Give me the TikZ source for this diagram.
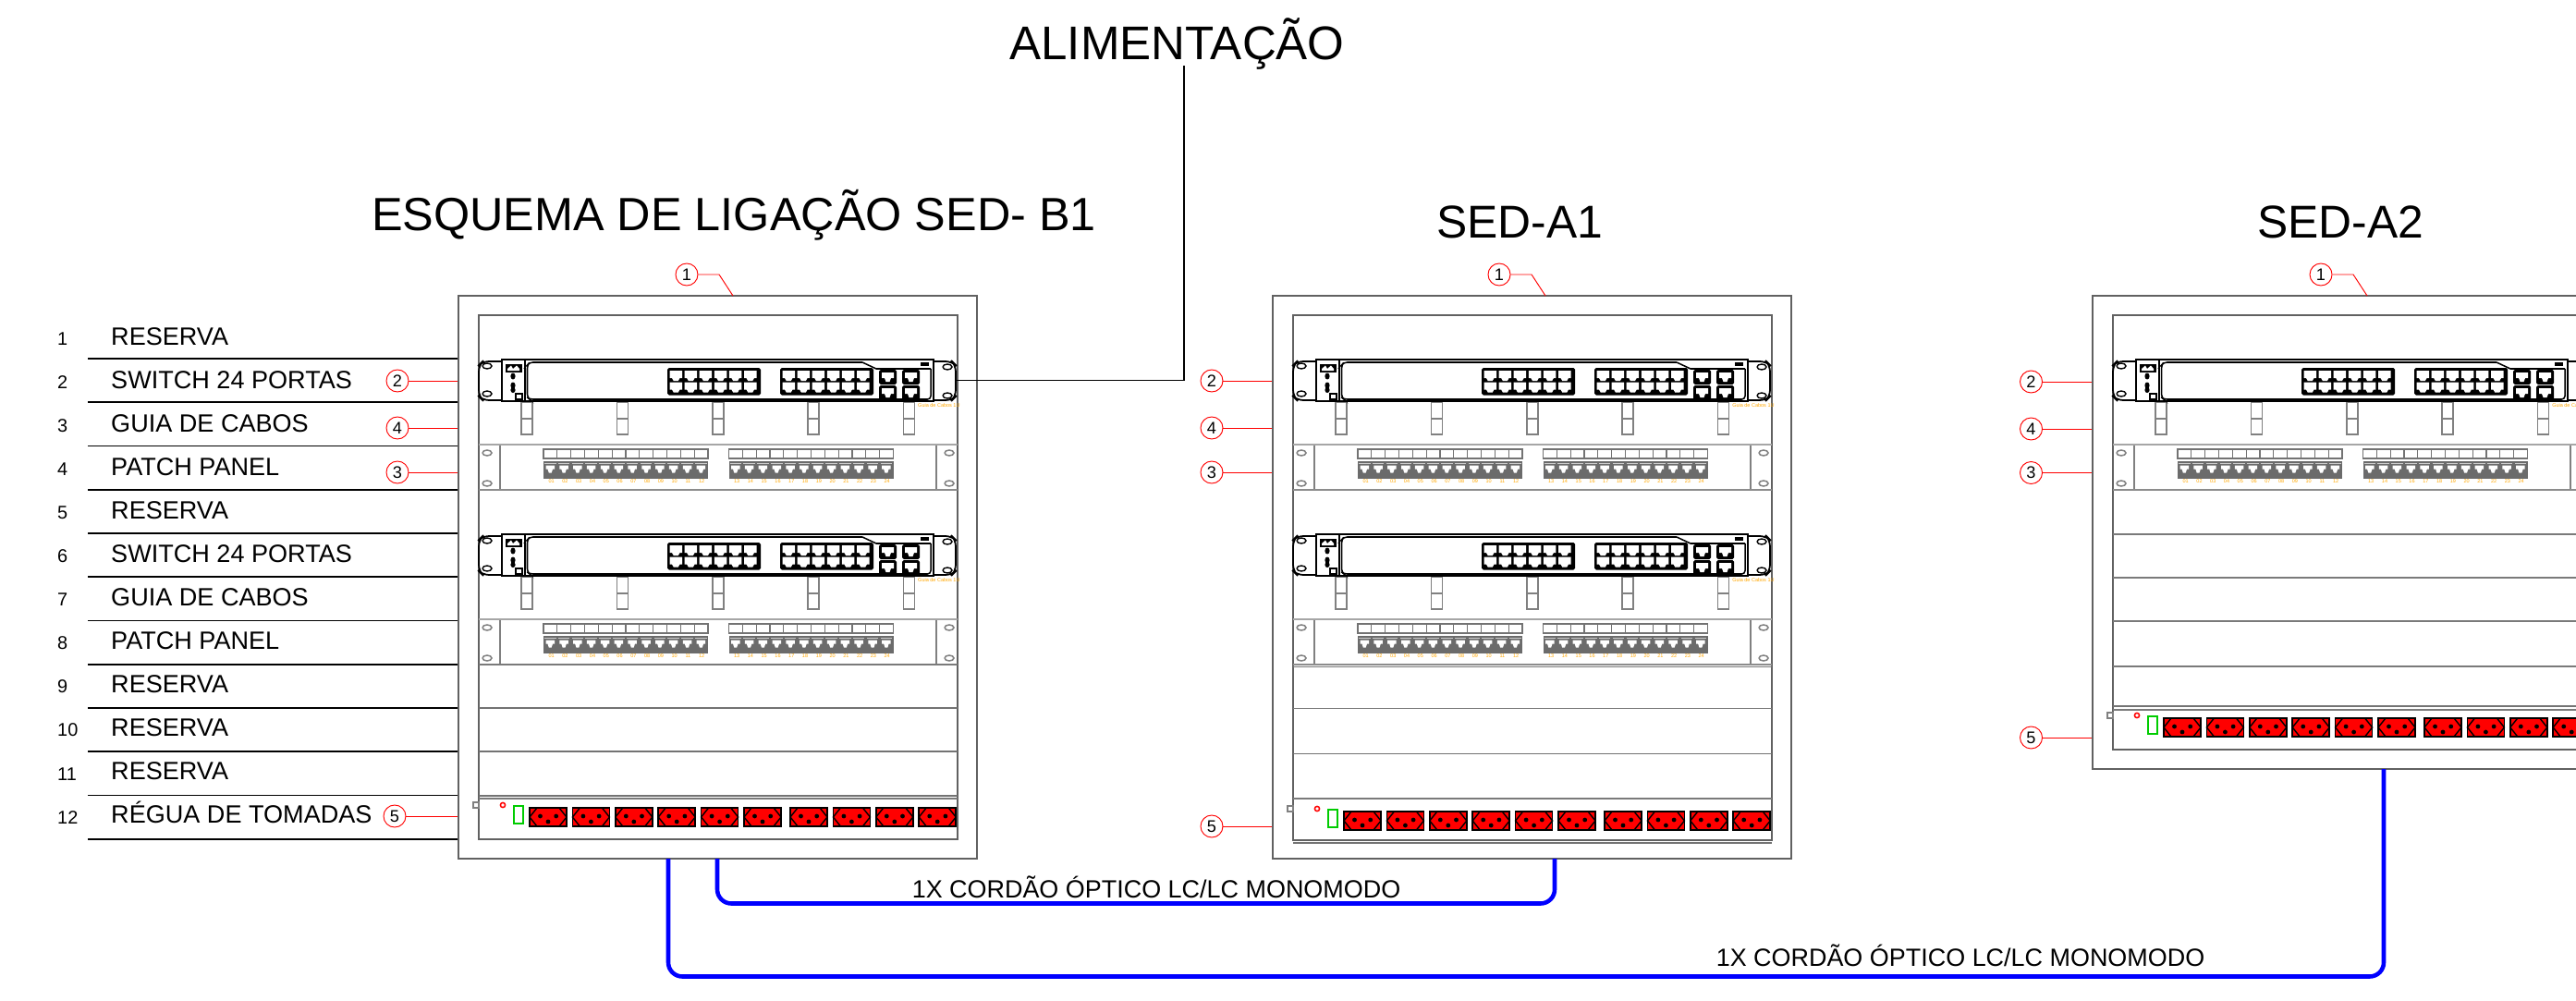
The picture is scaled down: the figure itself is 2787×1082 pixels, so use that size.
\documentclass[tikz,border=0pt]{standalone}
\usepackage{fontspec}
\setmainfont{Liberation Sans}
\begin{document}
\begin{tikzpicture}[x=0.3mm,y=-0.3mm,
  frameline/.style={draw=black!62,line width=1.7pt},
  rowline/.style={draw=black!52,line width=1.5pt},
  thinrow/.style={draw=black!55,line width=1.4pt},
  blk/.style={draw=black,line width=1.5pt},
  lightline/.style={draw=black!50,line width=1.2pt},
  bubble/.style={circle,draw=red,line width=0.8pt,minimum size=20.5pt,inner sep=0pt,fill=white,font=\fontsize{15.5}{16}\selectfont},
  leader/.style={draw=red,line width=0.8pt},
  rowtext/.style={anchor=base west,inner sep=0pt,font=\fontsize{23.1}{24}\selectfont},
  numtext/.style={anchor=base west,inner sep=0pt,font=\fontsize{17}{18}\selectfont},
  title/.style={inner sep=0pt,anchor=base,font=\fontsize{42.5}{44}\selectfont},
  gold/.style={inner sep=0pt,text=orange!70!yellow,font=\fontsize{4.7}{5}\selectfont},
  fiber/.style={draw=blue,line width=3.9pt,rounded corners=13pt},
  swport/.pic={\fill[white] (0,0)--(13.5,0)--(13.5,8)--(11,8)--(9.3,11)--(4.2,11)--(2.5,8)--(0,8)--cycle;},
  pport/.pic={\fill[black!20] (1,1.6) rectangle (13.5,3);
    \fill[white] (2.5,4.5)--(12,4.5)--(12,8.5)--(10,8.5)--(8.7,12.5)--(5.8,12.5)--(4.5,8.5)--(2.5,8.5)--cycle;},
  swblock/.pic={\fill[black,rounded corners=1.5pt] (0,0) rectangle (101,29.5);
    \foreach \k in {0,...,5}{
      \pic at ({2.5+16.1*\k},3) {swport};
      \pic at ({2.5+16.1*\k},15.5) {swport};}},
  uplink/.pic={\fill[black,rounded corners=1.5pt] (0,0) rectangle (19,16);
    \fill[white] (3,3)--(16,3)--(16,9)--(13,9)--(11.5,13)--(7.5,13)--(6,9)--(3,9)--cycle;},
  socket/.pic={\fill[red] (0,0) rectangle (40,20);
    \draw[black,line width=1.3pt] (0,0) rectangle (40,20);
    \draw[black,line width=1.2pt] (8,0)--(0,10)--(8,20) (32,0)--(40,10)--(32,20);
    \fill[black] (11.5,9) circle (2.4) (28.7,9) circle (2.4) (20,15) circle (2.4);},
]
\useasboundingbox (0,0) rectangle (2787,1082);
\clip (0,0) rectangle (2787,1082);

% ---------- repeating equipment ----------
\def\switchunit#1{%
 \begin{scope}[shift={(0,#1)}]
  % cable guide
  \foreach \fx in {46,149.5,253,356,459.5}{
    \draw[lightline] ({518+\fx},435) rectangle ({530+\fx},470);
    \draw[lightline] ({518+\fx},453)--({530+\fx},453);}
  \draw[rowline,draw=black!35] (518,481)--(1036,481);
  \node[gold,anchor=west] at (993,439) {Guia de Cabos 1U};
  % patch panel
  \draw[lightline] (541,482)--(541,529) (1013,482)--(1013,529);
  \foreach \px/\py in {522/490,522/523,1022/490,1022/523}{
    \draw[lightline,line width=1.3pt] (\px,\py) arc[start angle=180,end angle=540,x radius=5,y radius=3];}
  \foreach \gx/\ng in {588/0,788.5/12}{
   \foreach \k in {0,...,11}{
    \draw[black!55,line width=1pt] ({\gx+14.83*\k},486) rectangle ({\gx+14.83*(\k+1)},496);}
   \fill[black!58] (\gx,499) rectangle ({\gx+178},517.5);
   \foreach \k in {0,...,11}{\pic at ({\gx+14.83*\k},499) {pport};}
   \foreach \k [evaluate=\k as \lab using int(\k+\ng+1)] in {0,...,11}{
    \node[gold] at ({\gx+8.7+14.77*\k},520.5) {\ifnum\lab<10 0\fi\lab};}
  }
  \draw[draw=black!45,line width=2.2pt] (518,530)--(1036,530);
  % switch
  \draw[blk,rounded corners=6pt,fill=white] (545,391)--(522,391)--(518,395)--(518,429)--(522,433)--(545,433);
  \draw[blk,rounded corners=6pt,fill=white] (1008,391)--(1030,391)--(1034,395)--(1034,429)--(1030,433)--(1008,433);
  \foreach \px/\py in {522/396,522/426,1020/397,1020/428}{
    \draw[blk,line width=1.2pt] (\px,\py) arc[start angle=180,end angle=540,x radius=5,y radius=3];}
  \draw[draw=black,line width=1.9pt,fill=white] (543,389) rectangle (1010,434);
  \draw[draw=black,line width=1.6pt] (568,389)--(568,434);
  \draw[draw=black,line width=1.3pt,rounded corners=3pt] (933,392)--(573,392)--(570.5,395)--(570.5,430)--(573,432)--(1007,432)--(1007,399);
  \draw[draw=black,line width=1.3pt] (933,392)--(948,399)--(1007,399);
  \fill[black] (996,391.5) rectangle (1005,395.5);
  \fill[black] (547,394) rectangle (565,403);
  \fill[white] (549,399)--(553,395.5)--(555,399)--(559,395.5)--(562,399)--(562,401)--(549,401)--cycle;
  \fill[black] (555,407) ellipse (2.6 and 3.5) (555,417) ellipse (2.6 and 3.5) (555,422) ellipse (2.6 and 3);
  \draw[draw=black,line width=1.4pt,fill=white] (558,426) rectangle (565,432);
  \pic at (722,398) {swblock};
  \pic at (844,398) {swblock};
  \pic at (951,400) {uplink};
  \pic at (951,417) {uplink};
  \pic at (976,400) {uplink};
  \pic at (976,417) {uplink};
 \end{scope}}

\def\strip#1{%
  \draw[lightline] (512,{#1-6}) rectangle (518,{#1});
  \draw[red,line width=1.3pt] (544,{#1-3}) circle (2.6);
  \draw[green!80!black,line width=1.2pt] (556,{#1-2}) rectangle (566,{#1+17});
  \foreach \sx in {573,619.4,665.8,712.2,758.6,805,855,901.4,947.8}{\pic at (\sx,#1) {socket};}
  \begin{scope}\clip (990,{#1-3}) rectangle (1035,{#1+23});\pic at (994.2,#1) {socket};\end{scope}}

% ---------- rack 1 ----------
\node[frameline,minimum width=479.4pt,minimum height=519pt,inner sep=0pt] (rack1) at (776.5,624.5) {};
\draw[frameline] (518,341) rectangle (1036,908);
\switchunit{0}
\switchunit{189}
\draw[rowline] (518,719)--(1036,719);
\draw[thinrow] (518,766)--(1036,766);
\draw[thinrow] (518,813)--(1036,813);
\draw[thinrow] (518,861)--(1036,861);
\draw[rowline] (518,864)--(1036,864);
\strip{874}

% ---------- rack 2 ----------
\node[frameline,minimum width=479.4pt,minimum height=519pt,inner sep=0pt] (rack2) at (1657.5,624.5) {};
\begin{scope}[shift={(881,0)}]
\draw[frameline] (518,341) rectangle (1036,908.5);
\switchunit{0}
\switchunit{189}
\draw[rowline] (518,721.5)--(1036,721.5);
\draw[rowline] (518,766.5)--(1036,766.5);
\draw[thinrow] (518,815.5)--(1036,815.5);
\draw[rowline] (518,864)--(1036,864);
\draw[thinrow] (518,912)--(1036,912);
\strip{878}
\end{scope}

% ---------- rack 3 ----------
\node[frameline,minimum width=479.4pt,minimum height=437pt,inner sep=0pt] (rack3) at (2544.5,576) {};
\begin{scope}[shift={(1768,0)}]
\draw[frameline] (518,341) rectangle (1036,811);
\switchunit{0}
\draw[rowline] (518,578)--(1036,578);
\draw[rowline] (518,625)--(1036,625);
\draw[rowline] (518,672)--(1036,672);
\draw[rowline] (518,721)--(1036,721);
\draw[thinrow] (518,764)--(1036,764);
\draw[rowline] (518,768)--(1036,768);
\strip{777}
\end{scope}

% ---------- row table ----------
\foreach \i [evaluate=\i as \ly using {388+47.25*\i}] in {0,...,11}{
  \coordinate (rl\i) at (95,\ly);
  \draw[black,line width=1.3pt] (rl\i)--(rl\i -| rack1.west);}
\foreach \i/\lab [evaluate=\i as \ly using {373.5+47.0*(\i-1)}] in {1/RESERVA,2/SWITCH 24 PORTAS,3/GUIA DE CABOS,4/PATCH PANEL,5/RESERVA,6/SWITCH 24 PORTAS,7/GUIA DE CABOS,8/PATCH PANEL,9/RESERVA,10/RESERVA,11/RESERVA,12/RÉGUA DE TOMADAS}{
  \node[rowtext] (lab\i) at (120,\ly) {\lab};}
\foreach \i [evaluate=\i as \ly using {373+47.1*(\i-1)}] in {1,...,12}{
  \node[numtext] (num\i) at (62,\ly) {\i};}

% ---------- bubbles ----------
\foreach \nm/\bx/\by/\tx/\rk in {aa/430/412/2/rack1,ab/430/463/4/rack1,ac/430/511/3/rack1,ad/427/883/5/rack1,
   ba/1311/412/2/rack2,bb/1311/463/4/rack2,bc/1311/511/3/rack2,bd/1311/894/5/rack2,
   ca/2197.5/413/2/rack3,cb/2197.5/464/4/rack3,cc/2197.5/511.5/3/rack3,cd/2197.5/798/5/rack3}{
  \node[bubble] (\nm) at (\bx,\by) {\tx};
  \draw[leader] (\nm.east)--(\nm.east -| \rk.west);}
\foreach \nm/\dx/\rk in {ae/0/rack1,be/879/rack2,ce/1768/rack3}{
  \node[bubble] (\nm) at ({743+\dx},297) {1};
  \coordinate (\nm k) at ({793+\dx},320);
  \draw[leader] (\nm.east)--({778+\dx},297)--(\nm k);}

% ---------- titles ----------
\node[title,font=\fontsize{43.6}{44}\selectfont] (talim) at (1273.5,64.5) {ALIMENTAÇÃO};
\node[title,font=\fontsize{43}{44}\selectfont] (tb1) at (794,249.5) {ESQUEMA DE LIGAÇÃO SED- B1};
\node[title] (ta1) at (1644,257) {SED-A1};
\node[title] (ta2) at (2532,257) {SED-A2};

% ---------- power feed ----------
\coordinate (swout) at (1034,411.5);
\coordinate (alimin) at (1281,71);
\draw[black,line width=1.4pt] (swout)-|(alimin);

% ---------- fibres ----------
\coordinate (fa) at (776,929); \coordinate (fb) at (1682,929);
\coordinate (fc) at (723,929); \coordinate (fd) at (2579,832);
\draw[fiber] (fa)--(776,977.5)--(1682,977.5)--(fb);
\draw[fiber] (fc)--(723,1056.5)--(2579,1056.5)--(fd);
\node[rowtext,anchor=base,font=\fontsize{23}{24}\selectfont] (f1) at (1251,971) {1X CORDÃO ÓPTICO LC/LC MONOMODO};
\node[rowtext,anchor=base,font=\fontsize{23}{24}\selectfont] (f2) at (2121,1045) {1X CORDÃO ÓPTICO LC/LC MONOMODO};
\end{tikzpicture}
\end{document}
